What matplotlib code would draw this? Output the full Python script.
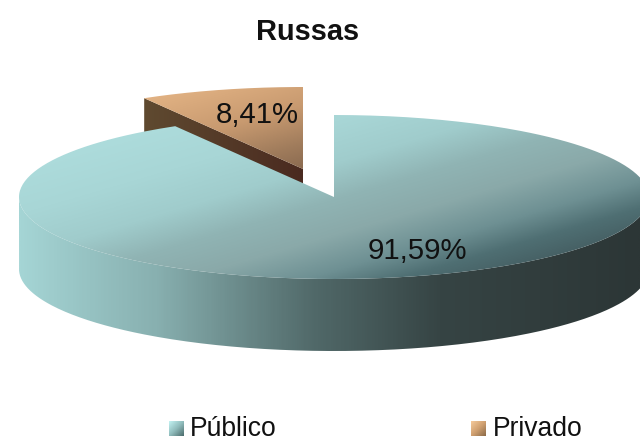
import numpy as np
import matplotlib
matplotlib.use('Agg')
import matplotlib.pyplot as plt
from matplotlib.colors import LinearSegmentedColormap
from matplotlib.patches import PathPatch
from matplotlib.path import Path

# Data
title = 'Russas'
categories = ['Público', 'Privado']
values = [91.59, 8.41]
value_labels = ['91,59%', '8,41%']

plt.rcParams['font.family'] = ['Liberation Sans', 'DejaVu Sans']

# Pie geometry, in pixels of the picture
cx, cy = 334, 197
rx, ry = 315, 82
depth = 72
explode_dx, explode_dy = -31, -28

top_cmap = LinearSegmentedColormap.from_list('top', [
    (0.00, '#b2e2e2'), (0.33, '#a8d6d6'), (0.47, '#a0cccc'), (0.59, '#90b4b4'),
    (0.71, '#8aa9a9'), (0.83, '#6e9093'), (0.92, '#4f6f73'), (1.00, '#466064')])
side_cmap = LinearSegmentedColormap.from_list('side', [
    (0.00, '#a5d5d5'), (0.22, '#88b0b0'), (0.48, '#506868'),
    (0.68, '#364444'), (1.00, '#2c3636')])
priv_cmap = LinearSegmentedColormap.from_list('priv', [
    (0.0, '#e8b888'), (0.5, '#c89a70'), (0.8, '#a07c5c'), (1.0, '#8a6a50')])
priv_side_cmap = LinearSegmentedColormap.from_list('privside', ['#5f4a30', '#4a2a20'])
swatch_pub = LinearSegmentedColormap.from_list('swpub', ['#c4f4f4', '#90bcbc', '#4a6a6a'])
swatch_priv = LinearSegmentedColormap.from_list('swpriv', ['#f6cb9c', '#d0a070', '#8a6a48'])


def wedge(x0, y0, a0, a1, apex=True):
    # angles are clockwise from 12 o'clock, y goes down
    a = np.radians(np.linspace(a0, a1, 300))
    xs = x0 + rx * np.sin(a)
    ys = y0 - ry * np.cos(a)
    if apex:
        xs = np.r_[x0, xs, x0]
        ys = np.r_[y0, ys, y0]
    return np.column_stack([xs, ys])


def fill(ax, poly, cmap, tfunc, bounds, zorder):
    x0, x1, y0, y1 = bounds
    xx, yy = np.meshgrid(np.linspace(x0, x1, 320), np.linspace(y0, y1, 220))
    im = ax.imshow(tfunc(xx, yy), cmap=cmap, vmin=0, vmax=1, extent=(x0, x1, y1, y0),
                   aspect='auto', zorder=zorder, interpolation='bilinear')
    patch = PathPatch(Path(poly), transform=ax.transData, fc='none', ec='none')
    ax.add_patch(patch)
    im.set_clip_path(patch)


fig = plt.figure(figsize=(6.4, 4.38), dpi=100)
ax = fig.add_axes([0, 0, 1, 1])

sweep = [v / sum(values) * 360 for v in values]
pub_start, pub_end = 0, sweep[0]
priv_start, priv_end = sweep[0], sweep[0] + sweep[1]

# Privado, pulled away from the centre
px, py = cx + explode_dx, cy + explode_dy
priv_top = wedge(px, py, priv_start, priv_end)
rim = wedge(px, py, priv_start, priv_start, apex=False)[0]
priv_face = np.array([rim, (px, py), (px, py + depth), (rim[0], rim[1] + depth), rim])
fill(ax, priv_face, priv_side_cmap, lambda x, y: (x - rim[0]) / (px - rim[0]),
     (rim[0], px, rim[1], py + depth), 1)
fill(ax, priv_top, priv_cmap, lambda x, y: np.clip((x - 143) / 160 * 0.35 + (y - 85) / 85 * 0.65, 0, 1),
     (rim[0], px, py - ry, py), 2)

# Público, side wall then top
front = wedge(cx, cy, 90, 270, apex=False)
side = np.vstack([front, (front + [0, depth])[::-1], front[:1]])
fill(ax, side, side_cmap, lambda x, y: (x - 18) / 622, (18, 649, cy, cy + depth + ry + 1), 3)
fill(ax, wedge(cx, cy, pub_start, pub_end), top_cmap,
     lambda x, y: np.clip(0.62 * (x - 18) / 635 + 0.55 * (y - 115) / 165, 0, 1),
     (18, 649, cy - ry, cy + ry), 4)

# Labels
ax.text(417.5, 251, value_labels[0], fontsize=21.2, color='#111111', ha='center', va='center', zorder=6)
ax.text(257, 115, value_labels[1], fontsize=21.2, color='#111111', ha='center', va='center', zorder=6)
ax.text(308, 32, title, fontsize=20.9, fontweight='bold', color='#111111', ha='center', va='center', zorder=6)

# Legend
grad = lambda x, y: np.clip(0.5 * (x - x.min()) / np.ptp(x) + 0.5 * (y - y.min()) / np.ptp(y), 0, 1)
for name, sx, tx, cmap in zip(categories, [169, 471], [190, 493], [swatch_pub, swatch_priv]):
    poly = np.array([(sx, 421), (sx + 15, 421), (sx + 15, 436), (sx, 436), (sx, 421)])
    fill(ax, poly, cmap, grad, (sx, sx + 15, 421, 436), 5)
    ax.text(tx, 436, name, fontsize=19.1, color='#111111', ha='left', va='baseline', zorder=6)

ax.set_xlim(0, 640)
ax.set_ylim(438, 0)
ax.set_axis_off()
fig.savefig('out.png', dpi=100)
